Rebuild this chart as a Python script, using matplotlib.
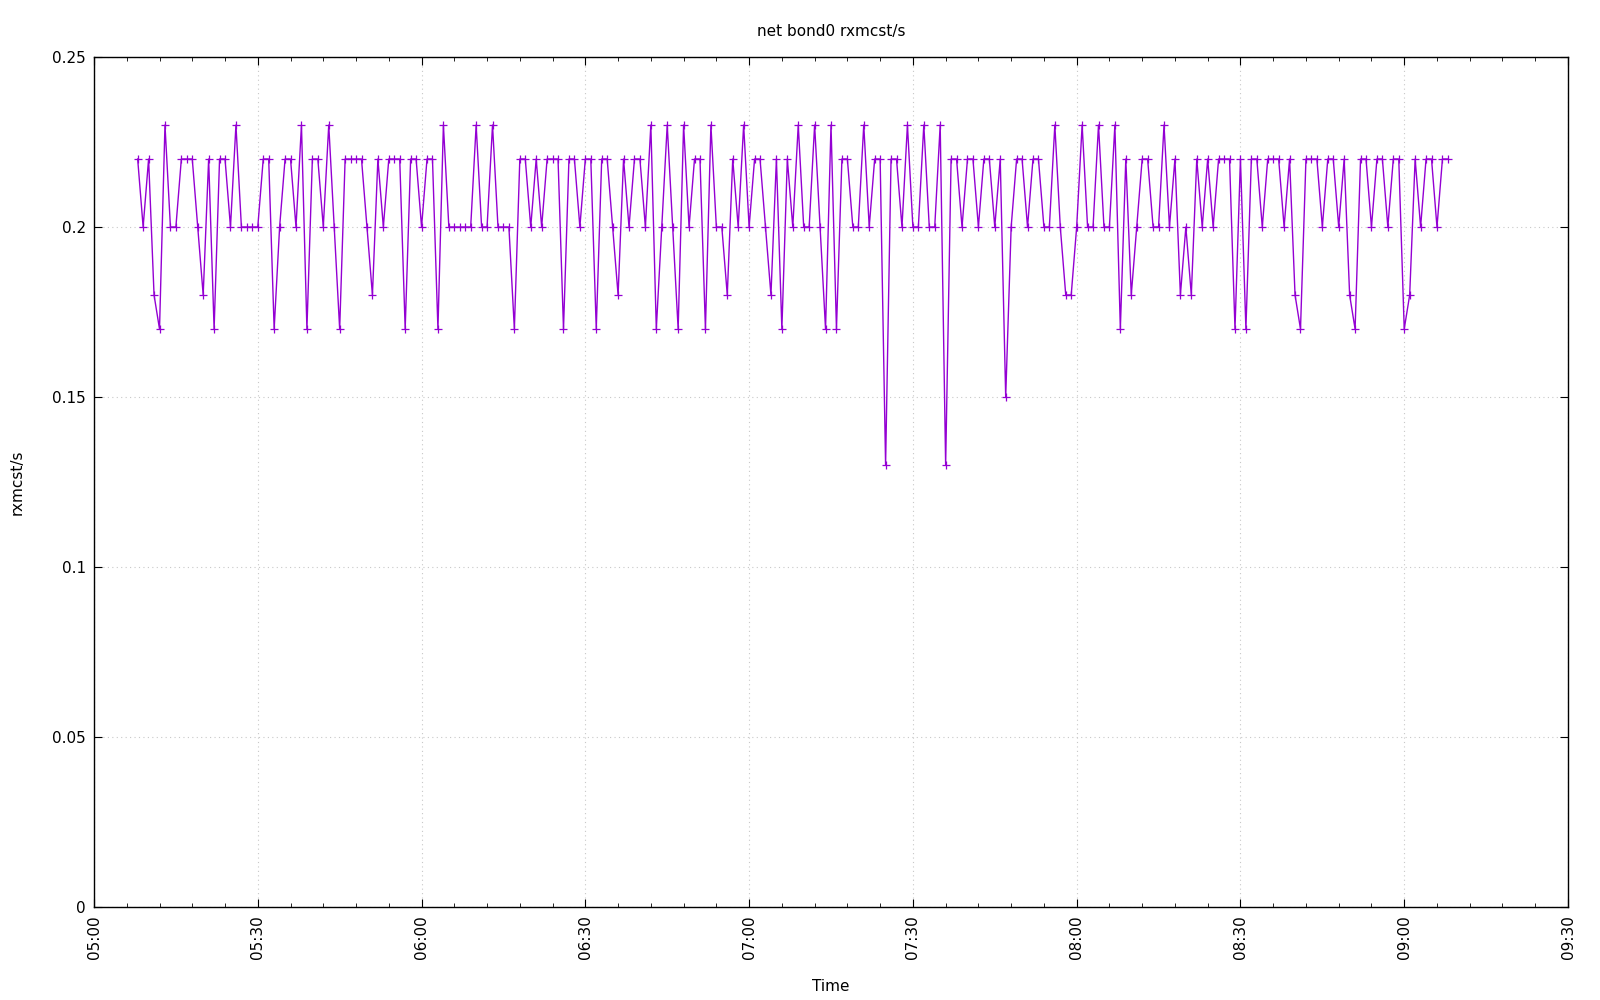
import numpy as np
import pandas as pd
import matplotlib
matplotlib.use("Agg")
import matplotlib.pyplot as plt
import matplotlib.dates as mdates

# one sample per minute starting at 05:08
start_time = "2024-01-01 05:08"
rxmcst = [
    0.22, 0.20, 0.22, 0.18, 0.17, 0.23, 0.20, 0.20, 0.22, 0.22, 0.22, 0.20,   # 05:08
    0.18, 0.22, 0.17, 0.22, 0.22, 0.20, 0.23, 0.20, 0.20, 0.20, 0.20, 0.22,   # 05:20
    0.22, 0.17, 0.20, 0.22, 0.22, 0.20, 0.23, 0.17, 0.22, 0.22, 0.20, 0.23,   # 05:32
    0.20, 0.17, 0.22, 0.22, 0.22, 0.22, 0.20, 0.18, 0.22, 0.20, 0.22, 0.22,   # 05:44
    0.22, 0.17, 0.22, 0.22, 0.20, 0.22, 0.22, 0.17, 0.23, 0.20, 0.20, 0.20,   # 05:56
    0.20, 0.20, 0.23, 0.20, 0.20, 0.23, 0.20, 0.20, 0.20, 0.17, 0.22, 0.22,   # 06:08
    0.20, 0.22, 0.20, 0.22, 0.22, 0.22, 0.17, 0.22, 0.22, 0.20, 0.22, 0.22,   # 06:20
    0.17, 0.22, 0.22, 0.20, 0.18, 0.22, 0.20, 0.22, 0.22, 0.20, 0.23, 0.17,   # 06:32
    0.20, 0.23, 0.20, 0.17, 0.23, 0.20, 0.22, 0.22, 0.17, 0.23, 0.20, 0.20,   # 06:44
    0.18, 0.22, 0.20, 0.23, 0.20, 0.22, 0.22, 0.20, 0.18, 0.22, 0.17, 0.22,   # 06:56
    0.20, 0.23, 0.20, 0.20, 0.23, 0.20, 0.17, 0.23, 0.17, 0.22, 0.22, 0.20,   # 07:08
    0.20, 0.23, 0.20, 0.22, 0.22, 0.13, 0.22, 0.22, 0.20, 0.23, 0.20, 0.20,   # 07:20
    0.23, 0.20, 0.20, 0.23, 0.13, 0.22, 0.22, 0.20, 0.22, 0.22, 0.20, 0.22,   # 07:32
    0.22, 0.20, 0.22, 0.15, 0.20, 0.22, 0.22, 0.20, 0.22, 0.22, 0.20, 0.20,   # 07:44
    0.23, 0.20, 0.18, 0.18, 0.20, 0.23, 0.20, 0.20, 0.23, 0.20, 0.20, 0.23,   # 07:56
    0.17, 0.22, 0.18, 0.20, 0.22, 0.22, 0.20, 0.20, 0.23, 0.20, 0.22, 0.18,   # 08:08
    0.20, 0.18, 0.22, 0.20, 0.22, 0.20, 0.22, 0.22, 0.22, 0.17, 0.22, 0.17,   # 08:20
    0.22, 0.22, 0.20, 0.22, 0.22, 0.22, 0.20, 0.22, 0.18, 0.17, 0.22, 0.22,   # 08:32
    0.22, 0.20, 0.22, 0.22, 0.20, 0.22, 0.18, 0.17, 0.22, 0.22, 0.20, 0.22,   # 08:44
    0.22, 0.20, 0.22, 0.22, 0.17, 0.18, 0.22, 0.20, 0.22, 0.22, 0.20, 0.22,   # 08:56
    0.22,                                                                     # 09:08
]
times = pd.date_range(start_time, periods=len(rxmcst), freq="min")

x_from, x_to = "2024-01-01 05:00", "2024-01-01 09:30"
y_ticks = [0, 0.05, 0.1, 0.15, 0.2, 0.25]
y_labels = ["0", "0.05", "0.1", "0.15", "0.2", "0.25"]

fig = plt.figure(figsize=(16, 10), dpi=100)
ax = fig.add_axes([0.05875, 0.093, 0.92125, 0.85])

ax.plot(times, rxmcst, color="#9400d3", lw=1.0, marker="+", ms=5.5, mew=0.9)

ax.set_xlim(pd.Timestamp(x_from), pd.Timestamp(x_to))
ax.set_ylim(0, 0.25)
ax.set_yticks(y_ticks)
ax.set_yticklabels(y_labels)

ax.xaxis.set_major_locator(mdates.MinuteLocator(byminute=[0, 30]))
ax.xaxis.set_minor_locator(mdates.MinuteLocator(byminute=range(0, 60, 6)))
ax.xaxis.set_major_formatter(mdates.DateFormatter("%H:%M"))
plt.setp(ax.get_xticklabels(), rotation=90, ha="center", va="top")

ax.tick_params(axis="both", which="both", direction="in", top=True, right=True,
               labelsize=11, color="black")
ax.tick_params(axis="both", which="major", length=6, pad=6)
ax.tick_params(axis="x", which="minor", length=3)
ax.grid(True, which="major", color="#c8c8c8", linestyle=(0, (1, 3)), lw=0.8)
for s in ax.spines.values():
    s.set_linewidth(1.0)

ax.set_title("net bond0 rxmcst/s", fontsize=11, pad=15)
ax.set_xlabel("Time", fontsize=11, labelpad=14)
ax.set_ylabel("rxmcst/s", fontsize=11, labelpad=20)

fig.savefig("out.png", dpi=100)
